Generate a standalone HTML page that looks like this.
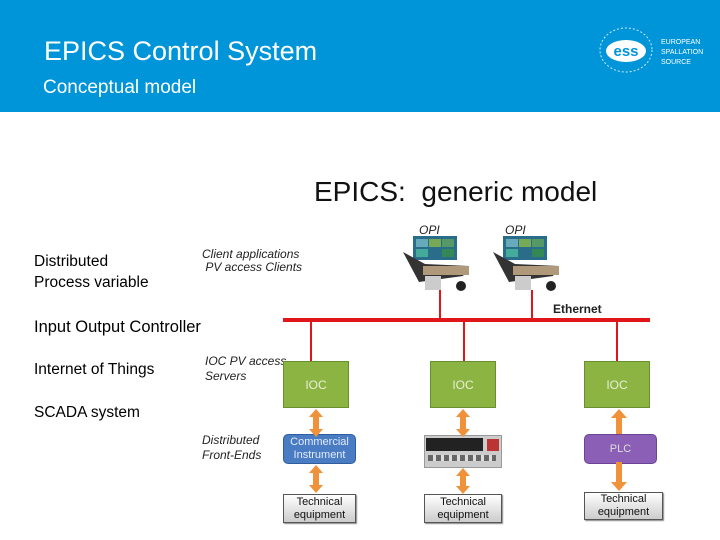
<!DOCTYPE html>
<html><head><meta charset="utf-8"><style>
body{margin:0;width:720px;height:540px;position:relative;background:#fff;font-family:"Liberation Sans",sans-serif;overflow:hidden}
.a{position:absolute;white-space:nowrap}
.hd{position:absolute;left:0;top:0;width:720px;height:112px;background:#0095d9}
.lt{font-size:15.5px;color:#000;left:34px}
.it{font-style:italic;font-size:12px;color:#222;line-height:13px}
.box{position:absolute;display:flex;align-items:center;justify-content:center;font-size:12px}
.ioc{background:#8cb443;border:1px solid #6a8f2e;color:#e8f0d8;width:64px;height:45px}
.te{background:linear-gradient(#fff,#ccc);border:1px solid #555;color:#111;font-size:11px;line-height:13px;text-align:center;box-shadow:1px 1px 1px #888}
.vl{position:absolute;width:2px;background:#e0161b}
</style></head><body>
<div class="hd"></div>
<div class="a" style="left:44px;top:36px;font-size:27px;color:#fff">EPICS Control System</div>
<div class="a" style="left:43px;top:77px;font-size:19px;color:#fff">Conceptual model</div>
<svg class="a" style="left:598px;top:24px" width="60" height="52"><ellipse cx="28" cy="26" rx="26" ry="22" fill="none" stroke="#cfeaf8" stroke-dasharray="2 2"/><ellipse cx="28" cy="27" rx="20" ry="11" fill="#fff"/><text x="28" y="32" font-size="15" font-weight="bold" text-anchor="middle" fill="#0095d9" font-family="Liberation Sans">ess</text></svg>
<div class="a" style="left:661px;top:38px;font-size:7px;color:#fff;line-height:10px">EUROPEAN<br>SPALLATION<br>SOURCE</div>
<div class="a" style="left:314px;top:176px;font-size:28px;color:#111">EPICS:&nbsp; generic model</div>
<div class="a lt" style="top:253px">Distributed</div>
<div class="a lt" style="top:274px">Process variable</div>
<div class="a lt" style="top:318px;font-size:16.5px">Input Output Controller</div>
<div class="a lt" style="top:361px">Internet of Things</div>
<div class="a lt" style="top:404px">SCADA system</div>
<div class="a it" style="left:202px;top:248px">Client applications<br>&nbsp;PV access Clients</div>
<div class="a it" style="left:205px;top:354px;line-height:15px">IOC PV access<br>Servers</div>
<div class="a it" style="left:202px;top:433px;line-height:15px">Distributed<br>Front-Ends</div>
<div class="a it" style="left:419px;top:224px">OPI</div>
<div class="a it" style="left:505px;top:224px">OPI</div>
<div class="a" style="left:553px;top:302px;font-size:12px;font-weight:bold;color:#222">Ethernet</div>
<svg class="a" style="left:403px;top:234px" width="160" height="62">
<g id="c"><rect x="10" y="2" width="44" height="24" fill="#2a6d8a"/><rect x="13" y="5" width="12" height="8" fill="#6ab"/><rect x="26" y="5" width="12" height="8" fill="#7a5"/><rect x="39" y="5" width="12" height="8" fill="#596"/><rect x="13" y="15" width="12" height="8" fill="#4a9"/><rect x="39" y="15" width="12" height="8" fill="#385"/><path d="M0 18 L16 48 L60 42 L66 32 L22 30 Z" fill="#333"/><rect x="20" y="32" width="46" height="9" fill="#b0987a"/><rect x="22" y="42" width="16" height="14" fill="#ccc"/><circle cx="58" cy="52" r="5" fill="#222"/></g>
<use href="#c" x="90"/></svg>
<div class="a" style="left:283px;top:318px;width:367px;height:4px;background:#e0161b"></div>
<div class="vl" style="left:439px;top:290px;height:30px"></div>
<div class="vl" style="left:531px;top:290px;height:30px"></div>
<div class="vl" style="left:310px;top:321px;height:40px"></div>
<div class="vl" style="left:463px;top:321px;height:40px"></div>
<div class="vl" style="left:616px;top:321px;height:40px"></div>
<div class="box ioc" style="left:283px;top:361px">IOC</div>
<div class="box ioc" style="left:430px;top:361px">IOC</div>
<div class="box ioc" style="left:584px;top:361px">IOC</div>
<div class="box" style="left:283px;top:434px;width:71px;height:28px;background:#4a7cc4;border:1px solid #2f5e9e;border-radius:5px;color:#e4ecf8;font-size:11px;line-height:13px;text-align:center">Commercial<br>Instrument</div>
<div class="box" style="left:584px;top:434px;width:71px;height:28px;background:#8a5fb5;border:1px solid #6a4394;border-radius:5px;color:#ddd;font-size:11px">PLC</div>
<div class="a" style="left:424px;top:435px;width:76px;height:31px;background:#ccc;border:1px solid #999"><div style="position:absolute;left:1px;top:2px;width:57px;height:13px;background:#222"></div><div style="position:absolute;left:62px;top:3px;width:12px;height:12px;background:#b33"></div><div style="position:absolute;left:3px;top:19px;width:68px;height:6px;background:repeating-linear-gradient(90deg,#666 0 5px,#ddd 5px 8px)"></div></div>
<div class="box te" style="left:283px;top:494px;width:71px;height:27px">Technical<br>equipment</div>
<div class="box te" style="left:424px;top:494px;width:76px;height:27px">Technical<br>equipment</div>
<div class="box te" style="left:584px;top:492px;width:77px;height:26px">Technical<br>equipment</div>
<svg class="a" style="left:0;top:0" width="720" height="540">
<g fill="#f0923a">
<path d="M316 409 l-7 8 h4 v12 h-4 l7 8 l7 -8 h-4 v-12 h4z"/>
<path d="M316 465 l-7 8 h4 v12 h-4 l7 8 l7 -8 h-4 v-12 h4z"/>
<path d="M463 409 l-7 8 h4 v12 h-4 l7 8 l7 -8 h-4 v-12 h4z"/>
<path d="M463 468 l-7 8 h4 v10 h-4 l7 8 l7 -8 h-4 v-10 h4z"/>
<path d="M619 409 l-8 9 h5 v16 h6 v-16 h5z"/>
<path d="M619 491 l-8 -9 h5 v-20 h6 v20 h5z"/>
</g></svg>
</body></html>
